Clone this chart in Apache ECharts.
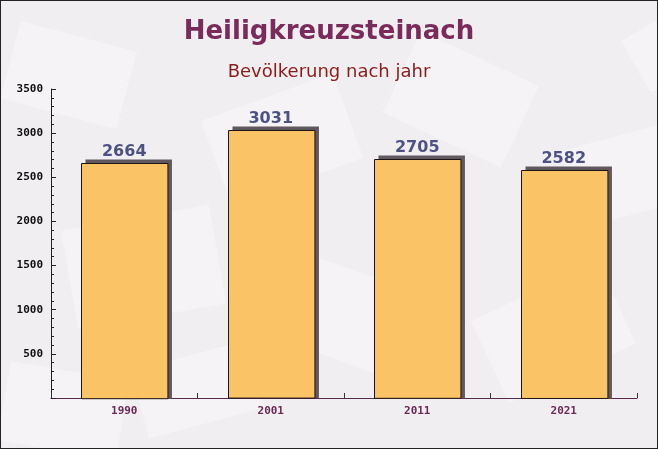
<!DOCTYPE html>
<html><head><meta charset="utf-8">
<script src="https://cdn.jsdelivr.net/npm/echarts@6/dist/echarts.min.js"></script>
<style>html,body{margin:0;padding:0;background:#f1eef1}#c{width:658px;height:449px;box-sizing:border-box;border:1px solid #222}</style>
</head><body><div id="c"></div>
<script>
const categories = ['1990','2001','2011','2021'];
const values = [2664, 3031, 2705, 2582];
const titleText = 'Heiligkreuzsteinach';
const subtitleText = 'Bevölkerung nach jahr';

const chart = echarts.init(document.getElementById('c'));
const bg = [];
const rects = [[20,20,120,80,-15],[200,120,140,90,20],[420,30,130,90,-25],[560,150,110,80,15],[60,230,150,100,10],[300,250,130,90,-20],[470,320,140,90,25],[10,360,120,80,-10],[620,40,80,60,30],[130,370,120,70,15]];
rects.forEach(r=>bg.push({type:'rect',x:r[0],y:r[1],rotation:r[4]*Math.PI/180,shape:{width:r[2],height:r[3]},style:{fill:'rgba(255,255,255,0.3)'},silent:true,z:-10}));

function renderBar(params, api){
  const idx = api.value(0);
  const v = api.value(1);
  const top = api.coord([idx, v]);
  const base = api.coord([idx, 0]);
  const w = api.size([1,0])[0]*0.59;
  const x = Math.round(top[0]-w/2)+0.5;
  const y = Math.round(top[1])+0.5;
  const h = base[1]-top[1];
  return {type:'group',children:[
    {type:'rect',shape:{x:x+4,y:y-4,width:w,height:h+4},style:{fill:'#5f585e'}},
    {type:'rect',shape:{x:x,y:y,width:w,height:h},style:{fill:'#fac466',stroke:'#1e1414',lineWidth:1}},
    {type:'text',style:{text:String(v),x:top[0],y:y-4,align:'center',verticalAlign:'bottom',
      font:'bold 16px "DejaVu Sans"',fill:'#4d5282'}}
  ]};
}

chart.setOption({
  backgroundColor:'#f1eef1',
  graphic: bg,
  title:[{text:titleText,left:'center',top:13,textStyle:{fontFamily:'DejaVu Sans',fontWeight:'bold',fontSize:26,color:'#7a2b5c'}},
         {text:subtitleText,left:'center',top:57,textStyle:{fontFamily:'DejaVu Sans',fontWeight:'normal',fontSize:18,color:'#8b1c1c'}}],
  grid:{left:50,right:20,top:88,bottom:50},
  xAxis:{type:'category',data:categories,boundaryGap:true,
    axisLine:{lineStyle:{color:'#5a2a4a',width:1}},
    axisTick:{show:true,inside:true,length:5,alignWithLabel:false,interval:0,lineStyle:{color:'#333',width:1}},
    axisLabel:{fontFamily:'DejaVu Sans Mono',fontWeight:'bold',fontSize:11,color:'#6b2a55',margin:8}},
  yAxis:{type:'value',min:0,max:3500,interval:500,
    axisLine:{show:true,lineStyle:{color:'#222'}},
    axisTick:{show:true,inside:true,length:5,lineStyle:{color:'#222'}},
    minorTick:{show:true,splitNumber:5,length:3,lineStyle:{color:'#222'}},
    splitLine:{show:false},
    axisLabel:{fontFamily:'DejaVu Sans Mono',fontWeight:'bold',fontSize:11,color:'#111',margin:8,
      formatter:v=>v===0?'':String(v)}},
  series:[{type:'custom',renderItem:renderBar,
    encode:{x:0,y:1},
    data:values.map((v,i)=>[i,v])}]
});
</script></body></html>
